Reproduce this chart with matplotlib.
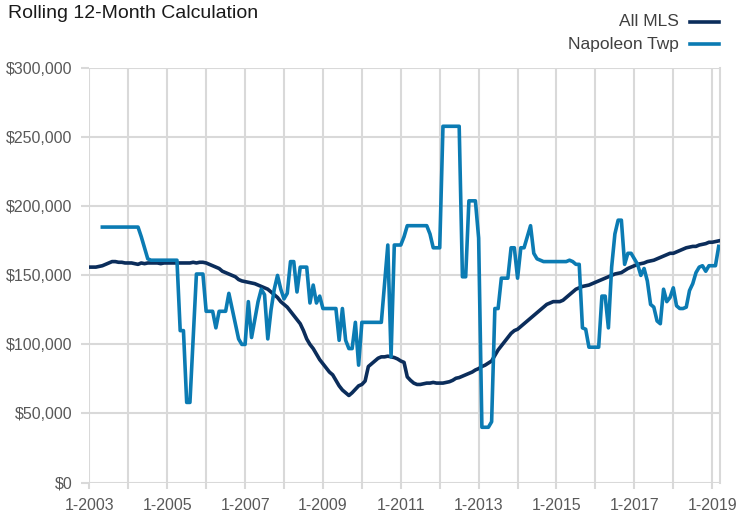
import matplotlib
matplotlib.use('Agg')
import matplotlib.pyplot as plt
import numpy as np

# meses contados a partir de 1-2003 (0 = jan/2003)
meses_mls = list(range(0, 195))
all_mls = [
    156, 156, 156, 156.5, 157, 158, 159, 160, 160, 159.5, 159.5, 159,
    159, 159, 158.5, 158, 159, 158.5, 159, 159, 159, 159, 158.5, 159,
    159, 159, 159, 159, 159, 159, 159, 159, 159.5, 159, 159.5, 159.5,
    159, 158, 157, 156, 155, 153, 152, 151, 150, 149, 147, 146,
    145.5, 145, 144.5, 144, 143, 142, 141, 140, 138, 136, 134, 131,
    129, 127, 124, 121, 118, 115, 110, 104, 100, 97, 93, 89,
    86, 83, 80, 78, 74, 70, 67, 65, 63, 65, 67.5, 70,
    71, 73.5, 84, 86, 88, 90, 91, 91, 91.5, 91, 90.5, 89.5,
    88, 87, 76.5, 74, 72, 71, 71, 71.5, 72, 72, 72.5, 72,
    72, 72, 72.5, 73, 74, 75.5, 76, 77, 78, 79, 80, 81.5,
    82.5, 84, 85, 86.5, 88, 92, 96, 99, 102, 105, 108, 110,
    111, 113, 115, 117, 119, 121, 123, 125, 127, 129, 130, 131,
    131, 131, 132, 134, 136, 138, 140, 141, 142, 142.5, 143, 144,
    145, 146, 147, 148, 149, 150, 151, 151.5, 152, 153.5, 155, 156,
    157, 158, 158.5, 159, 160, 160.5, 161, 162, 163, 164, 165, 166,
    166, 167, 168, 169, 170, 170.5, 171, 171, 172, 172.5, 173, 174,
    174, 174.5, 175,
]

meses_nap = list(range(4, 195))
napoleon = [
    185, 185, 185, 185, 185, 185, 185, 185,                      # 2003 (mai-dez)
    185, 185, 185, 185, 178, 170, 162, 161, 161, 161, 161, 161,  # 2004
    161, 161, 161, 161, 110, 110, 58, 58, 105, 151, 151, 151,    # 2005
    124, 124, 124, 112, 124, 124, 124, 137, 126, 115, 104, 100,  # 2006
    100, 131, 105, 118, 131, 140, 136, 104, 125, 140, 150, 140,  # 2007
    133, 137, 160, 160, 138, 156, 156, 156, 130, 143, 130, 135,  # 2008
    126, 126, 126, 126, 126, 103, 126, 103, 97, 97, 116, 85,     # 2009
    116, 116, 116, 116, 116, 116, 116, 144, 172, 91, 172, 172,   # 2010
    172, 178, 186, 186, 186, 186, 186, 186, 186, 180, 170, 170,  # 2011
    170, 258, 258, 258, 258, 258, 258, 149, 149, 204, 204, 204,  # 2012
    177, 40, 40, 40, 44, 126, 126, 148, 148, 148, 170, 170,      # 2013
    148, 170, 170, 178, 186, 166, 162, 161, 160, 160, 160, 160,  # 2014
    160, 160, 160, 160, 161, 160, 158, 158, 112, 111, 98, 98,    # 2015
    98, 98, 135, 135, 112, 156, 180, 190, 190, 158, 166, 166,    # 2016
    162, 158, 150, 155, 146, 129, 127, 117, 115, 140, 131, 134,  # 2017
    141, 128, 126, 126, 127, 139, 144, 152, 156, 157, 153, 157,  # 2018
    157, 157, 171,                                               # 2019
]

rotulos_x = ['1-2003', '1-2005', '1-2007', '1-2009', '1-2011',
             '1-2013', '1-2015', '1-2017', '1-2019']
valores_y = [0, 50000, 100000, 150000, 200000, 250000, 300000]

cor_mls = '#0b2d5b'
cor_nap = '#0b7bb3'
cor_grade = '#d9d9d9'
cor_texto = '#595959'

plt.rcParams['font.family'] = ['Liberation Sans', 'DejaVu Sans']

fig = plt.figure(figsize=(7.38, 5.15), dpi=100)
ax = fig.add_axes([0.1211, 0.0631, 0.8545, 0.8043])

ax.plot(meses_mls, np.array(all_mls) * 1000, color=cor_mls, lw=2.6,
        solid_joinstyle='round', zorder=3)
ax.plot(meses_nap, np.array(napoleon) * 1000, color=cor_nap, lw=2.6,
        solid_joinstyle='round', zorder=4)

ax.set_xlim(0, 194.4)
ax.set_ylim(0, 300000)

ax.set_xticks(range(0, 193, 12))
ax.set_xticklabels([rotulos_x[i // 2] if i % 2 == 0 else '' for i in range(17)])
ax.set_yticks(valores_y)
ax.set_yticklabels(['$' + format(v, ',') for v in valores_y])

ax.grid(True, color=cor_grade, lw=1.5)
ax.set_axisbelow(True)
for lado in ['top', 'left', 'bottom']:
    ax.spines[lado].set_visible(False)
ax.spines['right'].set_color(cor_grade)
ax.spines['right'].set_linewidth(1.5)
ax.tick_params(axis='both', colors=cor_grade, width=1.5,
               labelcolor=cor_texto, labelsize=11.5)
ax.tick_params(axis='x', length=4, pad=7)
ax.tick_params(axis='y', length=6, pad=6)

fig.text(0.011, 0.99, 'Rolling 12-Month Calculation', fontsize=14,
         color='#1a1a1a', va='top', ha='left')

# legenda feita a mao, alinhada a direita
for i, (nome, cor) in enumerate([('All MLS', cor_mls), ('Napoleon Twp', cor_nap)]):
    yy = 0.958 - i * 0.044
    fig.text(0.920, yy, nome, fontsize=12.5, color='#404040', ha='right', va='center')
    fig.add_artist(plt.Line2D([0.935, 0.974], [yy, yy], color=cor, lw=2.6,
                              transform=fig.transFigure))

fig.savefig('out.png', dpi=100)
